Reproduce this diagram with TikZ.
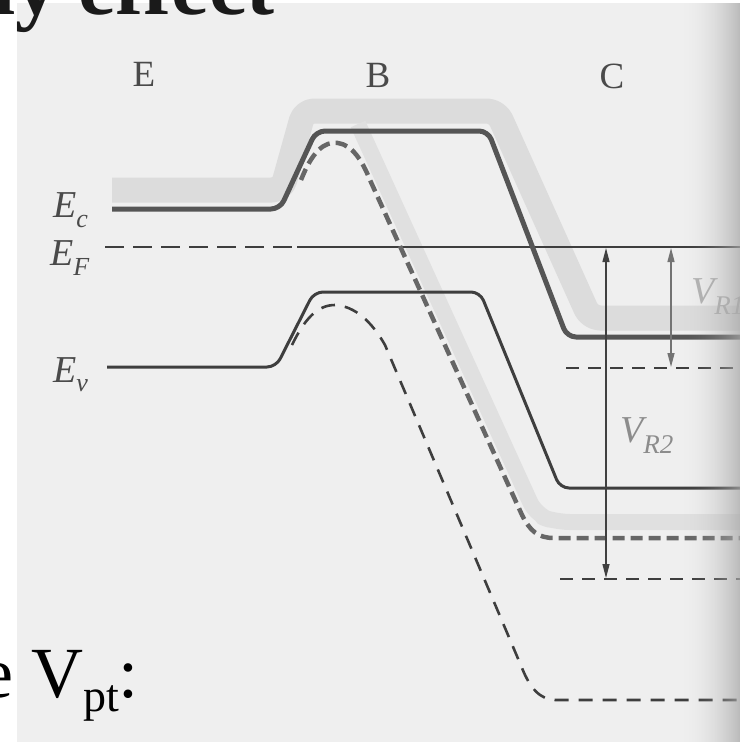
\documentclass[tikz,border=0pt]{standalone}
\usepackage{fontspec}
\setmainfont{Liberation Serif}
\usetikzlibrary{arrows.meta}
\definecolor{pagecol}{HTML}{EFEFEF}
\definecolor{bandcol}{HTML}{DCDCDC}
\definecolor{bandcolb}{HTML}{E0E0E0}
\definecolor{eccol}{HTML}{555555}
\definecolor{evcol}{HTML}{3E3E3E}
\definecolor{lblcol}{HTML}{4A4A4A}
\definecolor{edgecol}{HTML}{A8A8A8}
\definecolor{titlecol}{HTML}{1A1A1A}
\tikzset{
  bandstroke/.style={line width=25pt, color=bandcol, rounded corners=10pt, line join=round},
  bandstrokeb/.style={line width=16pt, color=bandcolb, rounded corners=14pt, line join=round},
  ecline/.style={line width=5pt, color=eccol, rounded corners=9pt, line join=round},
  evline/.style={line width=3pt, color=evcol, rounded corners=9pt, line join=round},
  efline/.style={line width=1.8pt, color=evcol},
  thickdash/.style={line width=4.5pt, color=eccol!90, dash pattern=on 12pt off 6pt},
  thindash/.style={line width=2.6pt, color=evcol, dash pattern=on 14pt off 10pt},
  reflevel/.style={line width=2.2pt, color=evcol, dash pattern=on 13pt off 9pt},
  regionlbl/.style={inner sep=0pt, text=lblcol, font=\fontsize{37}{37}\selectfont},
  levellbl/.style={anchor=base west, inner sep=0pt, text=lblcol, font=\fontsize{38}{38}\selectfont\itshape},
  dimarrow/.style={line width=1.3pt, {Triangle[length=14pt,width=7pt]}-{Triangle[length=14pt,width=7pt]}},
}
\begin{document}
\begin{tikzpicture}[x=1pt,y=-1pt]
\useasboundingbox (0,0) rectangle (746,742);
\clip (0,0) rectangle (746,742);
% page
\fill[white] (0,0) rectangle (746,742);
\fill[pagecol] (17,3) rectangle (740,742);
% shaded bands
\draw[bandstroke] (112,190) -- (282,190) -- (304,111) -- (497,111) -- (590,318) -- (740,318);
\draw[bandstrokeb] (358,124) -- (536,515) -- (556,522) -- (740,522);
% Fermi level
\coordinate (efa) at (105,247);
\coordinate (efb) at (297,247);
\coordinate (efc) at (740,247);
\draw[efline, dash pattern=on 19pt off 9pt] (efa) -- (efb);
\draw[efline] (efb) -- (efc);
% conduction band (solid)
\draw[ecline] (112,209) -- (280,209) -- (316,131) -- (488,131) -- (567,337) -- (740,337);
% valence band (solid)
\draw[evline] (107,367) -- (276,367) -- (314,292) -- (480,292) -- (560,488) -- (740,488);
% conduction band (dashed, punch-through)
\draw[thickdash] (301,180) .. controls (312,152) and (324,141) .. (338,143)
  .. controls (352,145) and (362,160) .. (370,180) -- (522,515)
  .. controls (530,531) and (538,538) .. (554,538) -- (740,538);
% valence band (dashed, punch-through)
\draw[thindash] (292,345) .. controls (305,318) and (318,305) .. (335,305)
  .. controls (355,306) and (372,322) .. (385,345) -- (522,668)
  .. controls (530,688) and (540,700) .. (556,700) -- (740,700);
% reference levels in collector
\draw[reflevel] (566,368) -- (740,368);
\draw[reflevel] (560,579) -- (740,579);
% labels
\node[regionlbl] (lE) at (144,74) {E};
\node[regionlbl] (lB) at (378,75) {B};
\node[regionlbl] (lC) at (612,76) {C};
\node[levellbl] (lEc) at (53,217) {E\raisebox{-10pt}{\fontsize{26}{26}\selectfont c}};
\node[levellbl] (lEF) at (50,265) {E\raisebox{-10pt}{\fontsize{26}{26}\selectfont F}};
\node[levellbl] (lEv) at (53,382) {E\raisebox{-9pt}{\fontsize{26}{26}\selectfont v}};
\node[levellbl, text=black!45] (lVR2) at (620,442) {V\raisebox{-11pt}{\fontsize{27}{27}\selectfont R2}};
\node[levellbl, text=black!30] (lVR1) at (691,303) {V\raisebox{-11pt}{\fontsize{27}{27}\selectfont R1}};
% voltage arrows
\coordinate (r1t) at (671,248);
\coordinate (r1b) at (671,367);
\coordinate (r2t) at (606,248);
\coordinate (r2b) at (606,578);
\draw[dimarrow, color=black!55] (r1t) -- (r1b);
\draw[dimarrow, color=black!75] (r2t) -- (r2b);
% darkening at the right edge of the scanned page
\foreach \i in {0,...,59} {
  \fill[edgecol, fill opacity={0.72*(\i/59)*(\i/59)}] ({680+\i},3) rectangle ({681.2+\i},742);
}
\fill[white] (740,0) rectangle (746,742);
% slide text
\node[anchor=base west, inner sep=0pt, text=titlecol, font=\bfseries\fontsize{84}{84}\selectfont] (title) at (-8,14) {ly effect};
\node[anchor=base west, inner sep=0pt, text=black, font=\fontsize{72}{72}\selectfont] (vpt) at (-19,697) {e V\raisebox{-14pt}{\fontsize{46}{46}\selectfont pt}:};
\end{tikzpicture}
\end{document}
